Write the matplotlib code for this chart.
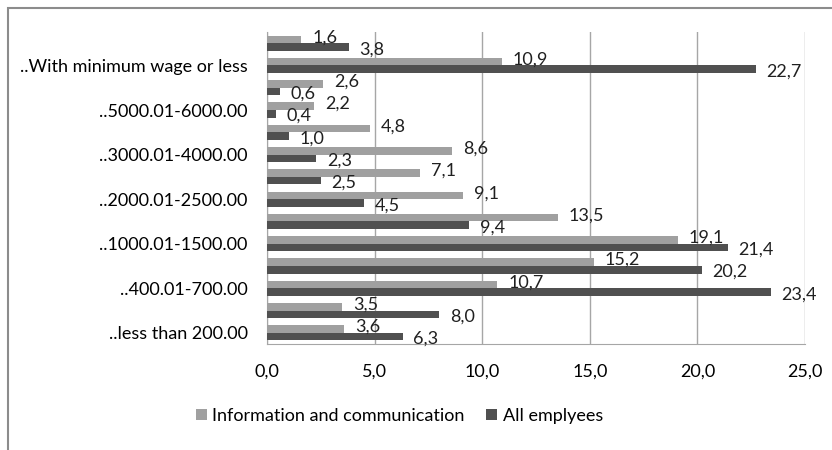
import matplotlib.pyplot as plt
from matplotlib.patches import Rectangle
import numpy as np

# wage groups, bottom to top (only every other one is labelled on the axis)
categories = ['..less than 200.00', '..200.01-400.00', '..400.01-700.00', '..700.01-1000.00',
              '..1000.01-1500.00', '..1500.01-2000.00', '..2000.01-2500.00', '..2500.01-3000.00',
              '..3000.01-4000.00', '..4000.01-5000.00', '..5000.01-6000.00', '..over 6000.00',
              '..With minimum wage or less', '..Not stated']
info_comm = [3.6, 3.5, 10.7, 15.2, 19.1, 13.5, 9.1, 7.1, 8.6, 4.8, 2.2, 2.6, 10.9, 1.6]
all_employees = [6.3, 8.0, 23.4, 20.2, 21.4, 9.4, 4.5, 2.5, 2.3, 1.0, 0.4, 0.6, 22.7, 3.8]
series_names = ['Information and communication', 'All emplyees']
xticks = [0, 5, 10, 15, 20, 25]

plt.rcParams['font.family'] = ['Lato', 'DejaVu Sans']

fig = plt.figure(figsize=(8.32, 4.5), dpi=100)
ax = fig.add_axes([267 / 832, 1 - 344 / 450, (805 - 267) / 832, (344 - 32) / 450])

# outer chart frame (top and left edges visible)
fig.patches.append(Rectangle((8 / 832, -0.1), 2, 1 - 8 / 450 + 0.1, transform=fig.transFigure,
                             fill=False, edgecolor='#8c8c8c', linewidth=1.5))

y = np.arange(len(categories))
h = 0.34
light, dark = '#a0a0a0', '#505050'
ax.barh(y + h / 2, info_comm, height=h, color=light, label=series_names[0], zorder=3)
ax.barh(y - h / 2, all_employees, height=h, color=dark, label=series_names[1], zorder=3)

for yy, v in zip(y + h / 2, info_comm):
    ax.text(v + 0.5, yy + 0.1, f'{v:.1f}'.replace('.', ','), va='center', ha='left', fontsize=13, color='#202020', zorder=4)
for yy, v in zip(y - h / 2, all_employees):
    ax.text(v + 0.5, yy - 0.1, f'{v:.1f}'.replace('.', ','), va='center', ha='left', fontsize=13, color='#202020', zorder=4)

ax.set_ylim(-0.5, len(categories) - 0.5)
ax.set_xlim(0, 25)
ax.set_xticks(xticks)
ax.set_xticklabels([f'{t:.1f}'.replace('.', ',') for t in xticks], fontsize=13)
ax.set_yticks(y[::2])
ax.set_yticklabels(categories[::2], fontsize=13)
ax.tick_params(length=0, pad=14)
ax.tick_params(axis='x', pad=14)
ax.grid(axis='x', color='#a6a6a6', linewidth=1, zorder=0)
for s in ['top', 'right']:
    ax.spines[s].set_visible(False)
ax.spines['left'].set_color('#a6a6a6')
ax.spines['bottom'].set_color('#a6a6a6')

fig.legend(loc='center', bbox_to_anchor=(0.48, 1 - 416 / 450), ncol=2, frameon=False, fontsize=13,
           handlelength=0.6, handleheight=0.6, handletextpad=0.3, columnspacing=1.2)

fig.savefig('out.png', dpi=100)
